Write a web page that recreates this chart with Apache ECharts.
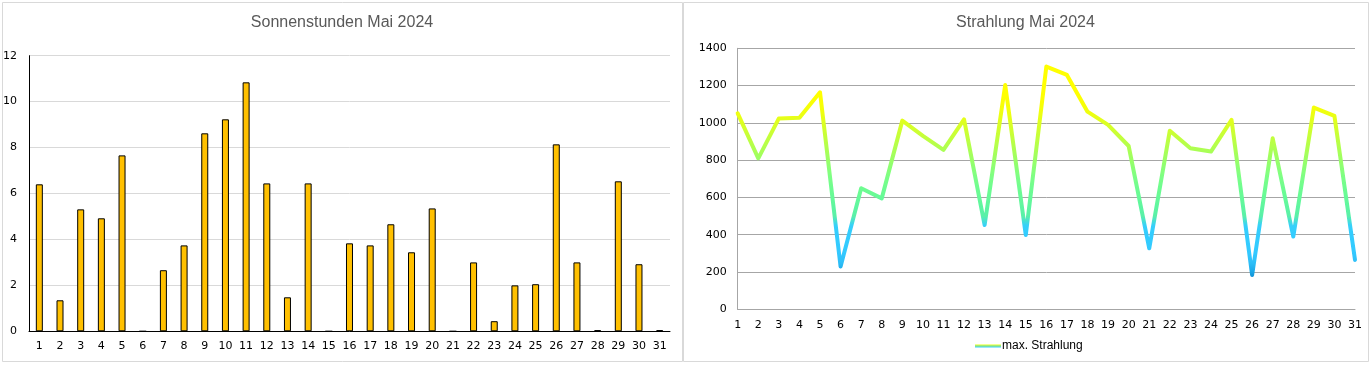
<!DOCTYPE html>
<html>
<head>
<meta charset="utf-8">
<script src="https://cdn.jsdelivr.net/npm/echarts@6/dist/echarts.min.js"></script>
<style>
html,body{margin:0;padding:0;background:#fff;}
#c{width:1372px;height:366px;}
</style>
</head>
<body>
<div id="c"></div>
<script>
const days = ['1','2','3','4','5','6','7','8','9','10','11','12','13','14','15','16','17','18','19','20','21','22','23','24','25','26','27','28','29','30','31'];
const sunHours = [6.40,1.35,5.31,4.92,7.66,0,2.66,3.74,8.62,9.23,10.84,6.44,1.48,6.44,0,3.83,3.74,4.66,3.44,5.35,0,3.00,0.44,2.00,2.05,8.14,3.00,0.05,6.53,2.92,0.05];
const radiation = [1051,810,1024,1028,1164,229,649,595,1012,930,855,1019,452,1203,399,1302,1257,1060,989,876,327,958,864,846,1016,184,917,390,1082,1037,265];
const titleLeft = 'Sonnenstunden Mai 2024';
const titleRight = 'Strahlung Mai 2024';
const seriesName = 'max. Strahlung';
// colour ramp of the radiation line, one colour per 50 units from 0 to 1400
const rampColors = ['#004f95','#005aa5','#0066b3','#0a80c8','#1aa6e6','#2ebff8','#33c8ff','#33ccff','#33ccff','#36d0fa',
  '#5af0a8','#5ef5a0','#66fa98','#6efc90','#7afe88','#88ff78','#99ff66','#aaff55','#bbff44','#ccff33',
  '#ddff22','#eeff11','#f8ff06','#ffff00','#ffff00','#ffff00','#ffff00','#ffff00','#ffff00'];

const chart = echarts.init(document.getElementById('c'), null, {renderer:'canvas'});
const axisFont = {fontFamily:'DejaVu Sans', fontSize:11, color:'#000'};
const titleFont = {fontFamily:'Liberation Sans', fontSize:16, fontWeight:'normal', color:'#595959'};
const plain = v => String(v);

chart.setOption({
  animation:false,
  backgroundColor:'#fff',
  graphic:[
    {type:'rect', shape:{x:2.5,y:2.5,width:680,height:359}, style:{fill:'none',stroke:'#d9d9d9',lineWidth:1}, silent:true},
    {type:'rect', shape:{x:683.5,y:2.5,width:685,height:359}, style:{fill:'none',stroke:'#d9d9d9',lineWidth:1}, silent:true}
  ],
  title:[
    {text:titleLeft, left:342, top:15, textAlign:'center', padding:0, textStyle:titleFont},
    {text:titleRight, left:1025.5, top:15, textAlign:'center', padding:0, textStyle:titleFont}
  ],
  legend:{
    left:975, top:340, padding:0, itemWidth:26, itemHeight:3, itemGap:4,
    textStyle:{fontFamily:'Liberation Sans', fontSize:12, color:'#000', padding:[0,0,0,-4]},
    data:[{name:seriesName, icon:'rect', itemStyle:{color:new echarts.graphic.LinearGradient(0,0,0,1,[{offset:0,color:'#e6ff1a'},{offset:1,color:'#33ccff'}])}}]
  },
  visualMap:{type:'continuous', show:false, seriesIndex:1, dimension:1, min:0, max:1400, inRange:{color:rampColors}},
  grid:[
    {left:28.7, top:55.7, width:641.3, height:275.6},
    {left:737.7, top:48.3, width:617.3, height:261}
  ],
  xAxis:[
    {type:'category', gridIndex:0, data:days, boundaryGap:true,
     axisLine:{show:true, lineStyle:{color:'#000', width:1}}, axisTick:{show:false},
     axisLabel:Object.assign({margin:9, interval:0}, axisFont)},
    {type:'category', gridIndex:1, data:days, boundaryGap:false,
     axisLine:{show:true, lineStyle:{color:'#a6a6a6', width:1}}, axisTick:{show:false},
     axisLabel:Object.assign({margin:10, interval:0}, axisFont)}
  ],
  yAxis:[
    {type:'value', gridIndex:0, min:0, max:12, interval:2,
     axisLine:{show:true, lineStyle:{color:'#000', width:1}}, axisTick:{show:false},
     splitLine:{lineStyle:{color:'#d9d9d9', width:1}},
     axisLabel:Object.assign({margin:12, formatter:plain}, axisFont)},
    {type:'value', gridIndex:1, min:0, max:1400, interval:200,
     axisLine:{show:true, lineStyle:{color:'#a6a6a6', width:1}}, axisTick:{show:false},
     splitLine:{lineStyle:{color:'#a6a6a6', width:1}},
     axisLabel:Object.assign({margin:11, formatter:plain}, axisFont)}
  ],
  series:[
    {type:'bar', name:'Sonnenstunden', xAxisIndex:0, yAxisIndex:0, data:sunHours, barWidth:7,
     itemStyle:{color:'#ffc000', borderColor:'#000', borderWidth:1}},
    {type:'line', name:seriesName, xAxisIndex:1, yAxisIndex:1, data:radiation,
     symbol:'none', showSymbol:false, lineStyle:{width:4, join:'round', cap:'round'}}
  ]
});
</script>
</body>
</html>
